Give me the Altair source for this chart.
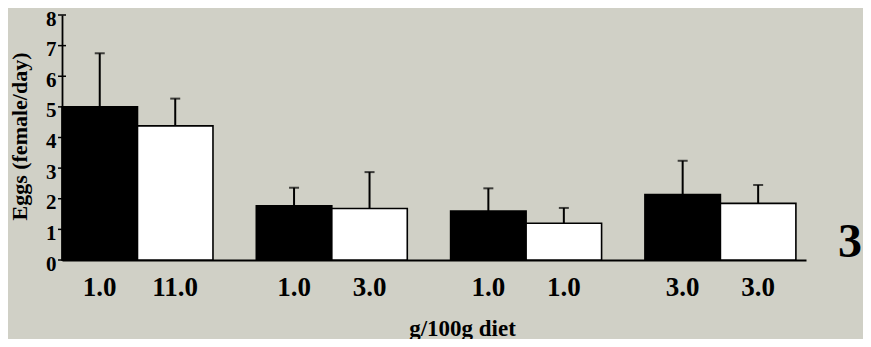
import altair as alt
import pandas as pd

groups = ["A", "B", "C", "D"]
black_vals = [5.0, 1.77, 1.6, 2.14]
black_upper = [6.75, 2.36, 2.34, 3.24]
black_labels = ["1.0", "1.0", "1.0", "3.0"]
white_vals = [4.38, 1.68, 1.2, 1.85]
white_upper = [5.27, 2.87, 1.7, 2.45]
white_labels = ["11.0", "3.0", "1.0", "3.0"]
y_ticks = [0, 1, 2, 3, 4, 5, 6, 7, 8]
panel_label = ["3"]

rows = []
for g, v, u, l in zip(groups, black_vals, black_upper, black_labels):
    rows.append({"group": g, "series": "black", "value": v, "upper": u, "label": l})
for g, v, u, l in zip(groups, white_vals, white_upper, white_labels):
    rows.append({"group": g, "series": "white", "value": v, "upper": u, "label": l})
df = pd.DataFrame(rows)
ticks_df = pd.DataFrame({"t": y_ticks})
panel_df = pd.DataFrame({"p": panel_label})

FONT = "Liberation Serif"
BG = "#d0d0c6"

xscale = alt.Scale(paddingInner=0.223, paddingOuter=0.026, align=0)
xoff = alt.XOffset("series:N", scale=alt.Scale(domain=["black", "white"], paddingInner=0, paddingOuter=0))
yscale = alt.Scale(domain=[0, 8], nice=False)

x_axis = alt.Axis(
    title="g/100g diet",
    labels=False,
    ticks=False,
    domainColor="black",
    domainWidth=1.8,
    titleFont=FONT,
    titleFontSize=23,
    titleFontWeight="bold",
    titleColor="black",
    titleX=400,
    titleY=68,
    titleBaseline="middle",
)

y_axis = alt.Axis(
    title="Eggs (female/day)",
    values=y_ticks,
    ticks=False,
    tickSize=0,
    labelPadding=6,
    labelOffset=4,
    labelOverlap=False,
    labelFlush=False,
    labelBaseline="middle",
    labelFont=FONT,
    labelFontSize=21,
    labelFontWeight="bold",
    labelColor="black",
    domainColor="black",
    domainWidth=1.8,
    grid=False,
    titleFont=FONT,
    titleFontSize=22,
    titleFontWeight="bold",
    titleColor="black",
    titleX=-43,
    titleY=121,
    titleBaseline="middle",
)

x_enc = alt.X("group:N", scale=xscale, axis=x_axis, title="g/100g diet")


def y_of(field):
    return alt.Y(field, scale=yscale, axis=y_axis, title="Eggs (female/day)")


bars = alt.Chart(df).mark_bar(stroke="black", strokeWidth=1.6).encode(
    x=x_enc,
    xOffset=xoff,
    y=y_of("value:Q"),
    fill=alt.Fill("series:N", scale=alt.Scale(domain=["black", "white"], range=["#000000", "#ffffff"]), legend=None),
)

stems = alt.Chart(df).mark_rule(color="black", strokeWidth=2).encode(
    x=x_enc,
    xOffset=xoff,
    y=y_of("value:Q"),
    y2="upper:Q",
)

caps = alt.Chart(df).mark_tick(color="black", thickness=2, size=10, orient="horizontal").encode(
    x=x_enc,
    xOffset=xoff,
    y=y_of("upper:Q"),
)

labels = alt.Chart(df).mark_text(
    font=FONT, fontSize=27, fontWeight="bold", color="black", baseline="middle", align="center"
).encode(
    x=x_enc,
    xOffset=xoff,
    y=alt.value(273),
    text="label:N",
)

yticks = alt.Chart(ticks_df).mark_rule(color="black", strokeWidth=1.5).encode(
    y=y_of("t:Q"),
    x=alt.value(-4),
    x2=alt.value(4),
)

panel = alt.Chart(panel_df).mark_text(
    font=FONT, fontSize=48, fontWeight="bold", color="black", baseline="alphabetic", align="center"
).encode(
    x=alt.value(788),
    y=alt.value(242),
    text="p:N",
)

chart = alt.layer(bars, stems, caps, labels, yticks, panel).properties(
    width=744,
    height=245,
    background=BG,
    padding={"left": 54, "top": 7, "right": 57, "bottom": 79},
    autosize=alt.AutoSizeParams(type="none"),
).configure_view(stroke=None)

chart.save("out.html", embed_options={"renderer": "svg", "actions": False})
